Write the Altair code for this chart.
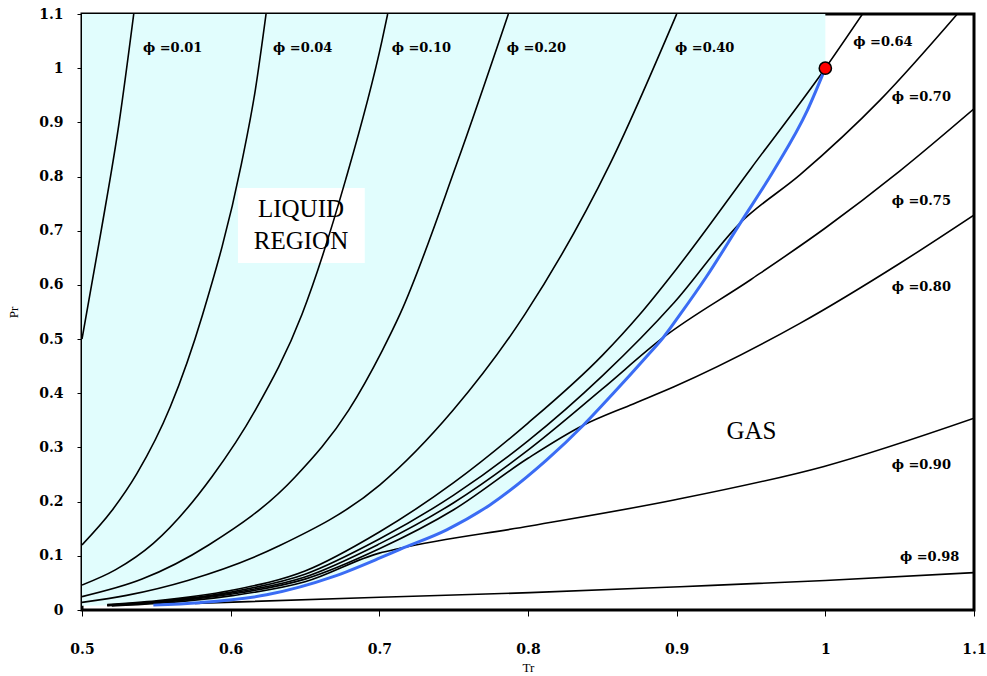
import altair as alt
import pandas as pd

# ---- fugacity-coefficient curves (Tr, Pr) ----
TR_001 = [0.500, 0.5129, 0.525, 0.5348]
PR_001 = [0.500, 0.700, 0.900, 1.100]

TR_004 = [0.500, 0.520, 0.537, 0.5594, 0.5812, 0.6072, 0.6166, 0.6238]
PR_004 = [0.120, 0.183, 0.252, 0.375, 0.546, 0.823, 0.960, 1.100]

TR_010 = [0.500, 0.5224, 0.548, 0.5874, 0.6166, 0.648, 0.6771, 0.7018, 0.7056]
PR_010 = [0.046, 0.074, 0.123, 0.246, 0.369, 0.546, 0.792, 1.051, 1.100]

TR_020 = [0.500, 0.5404, 0.5852, 0.6435, 0.6794, 0.7018, 0.7139, 0.752, 0.7868]
PR_020 = [0.0246, 0.057, 0.120, 0.246, 0.369, 0.478, 0.546, 0.823, 1.100]

TR_040 = [0.500, 0.530, 0.5717, 0.6323, 0.7004, 0.7497, 0.798, 0.8551, 0.900]
PR_040 = [0.014, 0.027, 0.055, 0.118, 0.231, 0.369, 0.546, 0.823, 1.100]

TR_064 = [0.517, 0.55, 0.60, 0.65, 0.70, 0.75, 0.80, 0.85, 0.875, 0.90, 0.95, 1.0, 1.025]
PR_064 = [0.010, 0.017, 0.036, 0.072, 0.144, 0.235, 0.345, 0.470, 0.545, 0.630, 0.815, 1.0, 1.100]

TR_070 = [0.517, 0.55, 0.60, 0.65, 0.70, 0.75, 0.80, 0.85, 0.8982, 0.943, 0.9829, 1.0368, 1.0888]
PR_070 = [0.009, 0.0155, 0.033, 0.066, 0.131, 0.212, 0.312, 0.432, 0.567, 0.715, 0.803, 0.941, 1.100]

TR_075 = [0.517, 0.55, 0.60, 0.65, 0.70, 0.75, 0.80, 0.85, 0.891, 0.95, 1.0, 1.05, 1.100]
PR_075 = [0.0085, 0.0145, 0.031, 0.061, 0.122, 0.198, 0.295, 0.408, 0.503, 0.610, 0.705, 0.810, 0.925]

TR_080 = [0.517, 0.55, 0.60, 0.65, 0.70, 0.75, 0.80, 0.8372, 0.8686, 0.8982, 0.9829, 1.0502, 1.100]
PR_080 = [0.008, 0.0135, 0.029, 0.057, 0.113, 0.185, 0.280, 0.341, 0.378, 0.412, 0.529, 0.640, 0.729]

TR_090 = [0.52, 0.55, 0.60, 0.65, 0.70, 0.7139, 0.8013, 0.8982, 0.9991, 1.100]
PR_090 = [0.0075, 0.012, 0.026, 0.052, 0.105, 0.114, 0.155, 0.203, 0.265, 0.354]

TR_098 = [0.576, 0.7004, 0.8013, 0.9022, 1.000, 1.100]
PR_098 = [0.0123, 0.0234, 0.032, 0.043, 0.0545, 0.069]

# vapour-pressure (saturation) curve
TR_SAT = [0.548, 0.579, 0.6242, 0.669, 0.7004, 0.7139, 0.7453, 0.7744, 0.8126, 0.8372,
          0.8574, 0.8798, 0.891, 0.9022, 0.920, 0.943, 0.9655, 0.9879, 1.000]
PR_SAT = [0.009, 0.0135, 0.028, 0.0615, 0.096, 0.112, 0.148, 0.194, 0.277, 0.341,
          0.400, 0.468, 0.503, 0.545, 0.615, 0.715, 0.812, 0.922, 1.000]

# lower boundary of the liquid (shaded) region
TR_LIQ = [0.500] + TR_SAT
PR_LIQ = [0.008] + PR_SAT

# critical point
TR_CRIT = [1.0]
PR_CRIT = [1.0]

# curve labels
LABEL_TEXT = ["0.01", "0.04", "0.10", "0.20", "0.40", "0.64", "0.70", "0.75", "0.80", "0.90", "0.98"]
LABEL_TR = [0.541, 0.6285, 0.7083, 0.7857, 0.8989, 1.0188, 1.0446, 1.0446, 1.0446, 1.0446, 1.0502]
LABEL_PR = [1.037, 1.037, 1.037, 1.037, 1.037, 1.049, 0.947, 0.754, 0.597, 0.268, 0.098]

X_TICKS = [0.5, 0.6, 0.7, 0.8, 0.9, 1.0, 1.1]
Y_TICKS = [0.0, 0.1, 0.2, 0.3, 0.4, 0.5, 0.6, 0.7, 0.8, 0.9, 1.0, 1.1]

curves = [
    ("0.01", TR_001, PR_001), ("0.04", TR_004, PR_004), ("0.10", TR_010, PR_010),
    ("0.20", TR_020, PR_020), ("0.40", TR_040, PR_040), ("0.64", TR_064, PR_064),
    ("0.70", TR_070, PR_070), ("0.75", TR_075, PR_075), ("0.80", TR_080, PR_080),
    ("0.90", TR_090, PR_090), ("0.98", TR_098, PR_098),
]
rows = []
for name, trs, prs in curves:
    for t, p in zip(trs, prs):
        rows.append({"phi": name, "Tr": t, "Pr": p})
df_lines = pd.DataFrame(rows)
df_sat = pd.DataFrame({"Tr": TR_SAT, "Pr": PR_SAT})
df_liq = pd.DataFrame({"Tr": TR_LIQ, "Pr": PR_LIQ})
df_crit = pd.DataFrame({"Tr": TR_CRIT, "Pr": PR_CRIT})
df_lab = pd.DataFrame({"label": ["\u03d5 =" + s for s in LABEL_TEXT], "Tr": LABEL_TR, "Pr": LABEL_PR})

xs = alt.Scale(domain=[0.5, 1.1], nice=False, zero=False)
ys = alt.Scale(domain=[0.0, 1.1], nice=False, zero=False)

x_axis = alt.Axis(values=X_TICKS, format=".1~f", grid=False, domain=False, labelFlush=False,
                  tickColor="black", tickSize=6, tickWidth=1,
                  labelFont="DejaVu Serif", labelFontWeight="bold", labelFontSize=14,
                  labelColor="black", labelPadding=26,
                  titleFont="Liberation Serif", titleFontWeight="normal", titleFontSize=13,
                  titleColor="black", titlePadding=5)
y_axis = alt.Axis(values=Y_TICKS, format=".1~f", grid=False, domain=False, labelFlush=False,
                  tickColor="black", tickSize=5, tickWidth=1,
                  labelFont="DejaVu Serif", labelFontWeight="bold", labelFontSize=14,
                  labelColor="black", labelPadding=14,
                  titleFont="Liberation Serif", titleFontWeight="normal", titleFontSize=13,
                  titleColor="black", titlePadding=18)


def X():
    return alt.X("Tr:Q", scale=xs, axis=x_axis, title="Tr")


def Y():
    return alt.Y("Pr:Q", scale=ys, axis=y_axis, title="Pr")


area = alt.Chart(df_liq).mark_area(color="#e1fdfd", opacity=1, interpolate="monotone").encode(
    x=X(), y=Y(), y2=alt.datum(1.1))

box = alt.Chart(df_crit).mark_rect(color="white").encode(
    x=alt.datum(0.6049, scale=xs, axis=x_axis, title="Tr"), x2=alt.datum(0.6902),
    y=alt.datum(0.6405, scale=ys, axis=y_axis, title="Pr"), y2=alt.datum(0.779))

lines = alt.Chart(df_lines).mark_line(color="black", strokeWidth=1.6, clip=True,
                                      interpolate="monotone").encode(
    x=X(), y=Y(), detail="phi:N")

sat = alt.Chart(df_sat).mark_line(color="#3a6cf4", strokeWidth=3, interpolate="monotone").encode(
    x=X(), y=Y())

crit = alt.Chart(df_crit).mark_point(filled=True, fill="#ff0000", stroke="black",
                                     strokeWidth=1.5, size=150, opacity=1).encode(x=X(), y=Y())

labels = alt.Chart(df_lab).mark_text(font="DejaVu Serif", fontWeight="bold", fontSize=13,
                                     align="left", baseline="middle", color="black").encode(
    x=X(), y=Y(), text="label:N")

region_txt = alt.Chart(pd.DataFrame({"t": ["LIQUID", "REGION"], "Tr": [0.6473, 0.6473],
                                     "Pr": [0.740, 0.681]})).mark_text(
    font="Liberation Serif", fontSize=25, align="center", baseline="middle", color="black").encode(
    x=X(), y=Y(), text="t:N")

gas_txt = alt.Chart(pd.DataFrame({"t": ["GAS"], "Tr": [0.9503], "Pr": [0.330]})).mark_text(
    font="Liberation Serif", fontSize=25, align="center", baseline="middle", color="black").encode(
    x=X(), y=Y(), text="t:N")

chart = alt.layer(area, box, lines, sat, crit, labels, region_txt, gas_txt).properties(
    width=892, height=596,
    padding={"left": 82, "top": 14, "right": 13, "bottom": 66},
    autosize=alt.AutoSizeParams(type="none"),
    background="white",
).configure_view(stroke="black", strokeWidth=3)

chart.save("out.html", embed_options={"renderer": "svg", "actions": False})
